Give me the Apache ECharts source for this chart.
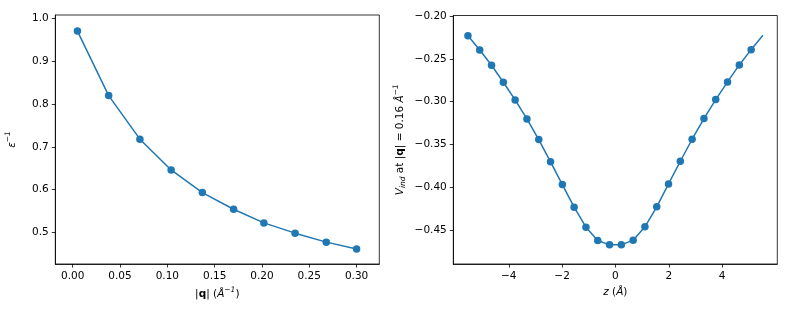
<!DOCTYPE html>
<html>
<head>
<meta charset="utf-8">
<script src="https://cdn.jsdelivr.net/npm/echarts@6/dist/echarts.min.js"></script>
<style>html,body{margin:0;padding:0;background:#fff;}#c{width:789px;height:316px;}</style>
</head>
<body>
<div id="c"></div>
<script>
// Left panel: inverse dielectric function vs |q|
const qValues = [0.005, 0.038, 0.071, 0.104, 0.137, 0.170, 0.202, 0.235, 0.268, 0.300];
const epsInv  = [0.971, 0.820, 0.718, 0.646, 0.593, 0.554, 0.522, 0.498, 0.477, 0.461];
const leftXTicks = [0, 0.05, 0.10, 0.15, 0.20, 0.25, 0.30];
const leftYTicks = [0.5, 0.6, 0.7, 0.8, 0.9, 1.0];

// Right panel: V_ind at |q| = 0.16 vs z
const zValues = [-5.531, -5.089, -4.646, -4.204, -3.761, -3.319, -2.876, -2.434, -1.991, -1.549,
                 -1.106, -0.664, -0.221, 0.221, 0.664, 1.106, 1.549, 1.991, 2.434, 2.876,
                 3.319, 3.761, 4.204, 4.646, 5.089, 5.531];
const vInd = [-0.2226, -0.2394, -0.2573, -0.2772, -0.2979, -0.3201, -0.3443, -0.3704, -0.3970, -0.4235,
              -0.4469, -0.4625, -0.4676, -0.4676, -0.4621, -0.4465, -0.4231, -0.3962, -0.3697, -0.3439,
              -0.3197, -0.2975, -0.2768, -0.2569, -0.2390, -0.2222];
const rightXTicks = [-4, -2, 0, 2, 4];
const rightYTicks = [-0.45, -0.40, -0.35, -0.30, -0.25, -0.20];

const C = '#1f77b4';
const FONT = 'DejaVu Sans';
const FS = 10.5;
const minus = s => s.replace('-', '\u2212');

const rich = {
  i: {fontStyle: 'italic', fontFamily: FONT, fontSize: FS, color: '#000'},
  b: {fontWeight: 'bold', fontFamily: FONT, fontSize: FS, color: '#000'},
  sup: {fontStyle: 'italic', fontFamily: FONT, fontSize: 7.5, color: '#000', padding: [0, 0, 7, 0]},
  sub: {fontStyle: 'italic', fontFamily: FONT, fontSize: 7.5, color: '#000', padding: [6, 0, 0, 0]}
};
const nameStyle = {fontFamily: FONT, fontSize: FS, color: '#000', rich: rich};

function axisCommon(ticks, fmt) {
  return {
    axisLine: {show: true, onZero: false, lineStyle: {color: '#000', width: 0.8}},
    axisTick: {show: true, inside: false, length: 3.5, lineStyle: {color: '#000', width: 0.8}, customValues: ticks},
    axisLabel: {show: true, fontFamily: FONT, fontSize: FS, color: '#000', margin: 6.5, customValues: ticks, formatter: fmt},
    splitLine: {show: false}
  };
}

const leftData = qValues.map((q, k) => [q, epsInv[k]]);
const rightData = zValues.map((z, k) => k === zValues.length - 1 ? {value: [z, vInd[k]], symbol: 'none'} : [z, vInd[k]]);

const option = {
  animation: false,
  backgroundColor: '#fff',
  grid: [
    {left: 55.3, top: 15, width: 324, height: 249, show: true, borderColor: '#000', borderWidth: 0.8, backgroundColor: 'transparent'},
    {left: 453.3, top: 15.5, width: 324, height: 248.5, show: true, borderColor: '#000', borderWidth: 0.8, backgroundColor: 'transparent'}
  ],
  xAxis: [
    Object.assign({type: 'value', gridIndex: 0, min: -0.0184, max: 0.324,
      name: '|{b|q}| ({i|Å}{sup|−1})', nameLocation: 'middle', nameGap: 22, nameTextStyle: nameStyle},
      axisCommon(leftXTicks, v => v.toFixed(2))),
    Object.assign({type: 'value', gridIndex: 1, min: -6.08, max: 6.07,
      name: '{i|z} ({i|Å})', nameLocation: 'middle', nameGap: 22, nameTextStyle: nameStyle},
      axisCommon(rightXTicks, v => minus(String(Math.round(v)))))
  ],
  yAxis: [
    Object.assign({type: 'value', gridIndex: 0, min: 0.4258, max: 1.0087,
      name: '{i|ε}{sup|−1}', nameLocation: 'middle', nameGap: 36, nameRotate: 90, nameTextStyle: nameStyle},
      axisCommon(leftYTicks, v => v.toFixed(1))),
    Object.assign({type: 'value', gridIndex: 1, min: -0.490, max: -0.199,
      name: '{i|V}{sub|ind} at |{b|q}| = 0.16 {i|Å}{sup|−1}', nameLocation: 'middle', nameGap: 46, nameRotate: 90, nameTextStyle: nameStyle},
      axisCommon(rightYTicks, v => minus(v.toFixed(2))))
  ],
  series: [
    {type: 'line', xAxisIndex: 0, yAxisIndex: 0, data: leftData, symbol: 'circle', symbolSize: 7.5,
      itemStyle: {color: C}, lineStyle: {color: C, width: 1.5}},
    {type: 'line', xAxisIndex: 1, yAxisIndex: 1, data: rightData, symbol: 'circle', symbolSize: 7.5,
      itemStyle: {color: C}, lineStyle: {color: C, width: 1.5}}
  ]
};

const chart = echarts.init(document.getElementById('c'), null, {renderer: 'canvas'});
chart.setOption(option);
</script>
</body>
</html>
